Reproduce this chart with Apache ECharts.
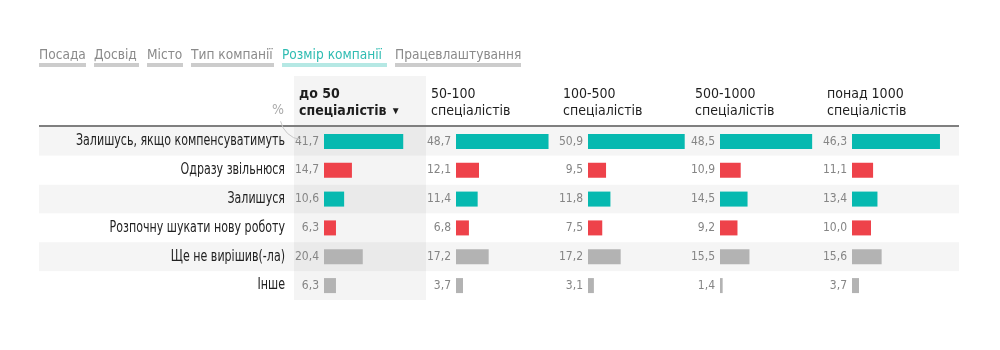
<!DOCTYPE html>
<html><head><meta charset="utf-8">
<script src="https://cdn.jsdelivr.net/npm/echarts@6/dist/echarts.min.js"></script>
<style>html,body{margin:0;padding:0;background:#fff}#c{width:1000px;height:350px}</style>
</head><body><div id="c"></div>
<script>
// ---- data ----
const tabs = ['Посада', 'Досвід', 'Місто', 'Тип компанії', 'Розмір компанії', 'Працевлаштування'];
const activeTab = 4;
const columnTitles = ['до 50\nспеціалістів {s|▼}', '50-100\nспеціалістів', '100-500\nспеціалістів', '500-1000\nспеціалістів', 'понад 1000\nспеціалістів'];
const answers = ['Залишусь, якщо компенсуватимуть', 'Одразу звільнюся', 'Залишуся', 'Розпочну шукати нову роботу', 'Ще не вирішив(-ла)', 'Інше'];
const answerKind = ['stay', 'leave', 'stay', 'leave', 'other', 'other'];
const upTo50 = [41.7, 14.7, 10.6, 6.3, 20.4, 6.3];
const from50to100 = [48.7, 12.1, 11.4, 6.8, 17.2, 3.7];
const from100to500 = [50.9, 9.5, 11.8, 7.5, 17.2, 3.1];
const from500to1000 = [48.5, 10.9, 14.5, 9.2, 15.5, 1.4];
const over1000 = [46.3, 11.1, 13.4, 10.0, 15.6, 3.7];
const columnsData = [upTo50, from50to100, from100to500, from500to1000, over1000];

// ---- styles / layout ----
const kindColor = { stay: '#06b9b0', leave: '#ee424a', other: '#b3b3b3' };
const FONT = "'Liberation Sans Narrow','DejaVu Sans Condensed','Roboto',sans-serif";
const tabX = [39, 94, 147, 191, 282, 395];
const tabW = [47, 45, 36, 83, 105, 126];
const tableLeft = 39, tableWidth = 920, rowsTop = 127, rowsHeight = 173;
const labelRight = 285;
const barStart = [324, 456, 588, 720, 852];
const pxPerUnit = 1.9, axisMax = 60;

const chart = echarts.init(document.getElementById('c'), null, { renderer: 'canvas' });

const grids = [{ left: tableLeft, top: rowsTop, width: tableWidth, height: rowsHeight }];
const xAxes = [{ gridIndex: 0, type: 'value', show: false, min: 0, max: 1 }];
const yAxes = [{
  gridIndex: 0, type: 'category', inverse: true, data: answers,
  axisLine: { show: false }, axisTick: { show: false }, splitLine: { show: false },
  splitArea: { show: true, areaStyle: { color: ['#f5f5f5', '#ffffff'] } },
  axisLabel: { show: false }
}];
const series = [];
columnsData.forEach((vals, i) => {
  const g = i + 1;
  grids.push({ left: barStart[i], top: rowsTop, width: axisMax * pxPerUnit, height: rowsHeight });
  xAxes.push({ gridIndex: g, type: 'value', show: false, min: 0, max: axisMax });
  yAxes.push({ gridIndex: g, type: 'category', inverse: true, data: answers, show: false });
  series.push({
    type: 'bar', xAxisIndex: g, yAxisIndex: g, barWidth: 15, clip: false,
    data: vals.map((v, k) => ({ value: v, itemStyle: { color: kindColor[answerKind[k]] } })),
    label: {
      show: true, position: 'left', distance: 5, color: '#858585', fontSize: 12, fontFamily: FONT,
      formatter: p => p.value.toFixed(1).replace('.', ',')
    },
    emphasis: { disabled: true }, silent: true, animation: false
  });
});

const graphic = [];
// tabs
tabs.forEach((t, i) => {
  const active = i === activeTab;
  graphic.push({ type: 'text', x: tabX[i], y: 48, z: 5,
    style: { text: t, fill: active ? '#2fbcb2' : '#8a8a8a', font: '13.6px ' + FONT } });
  graphic.push({ type: 'rect', shape: { x: tabX[i], y: 63, width: tabW[i], height: 4 }, z: 5,
    style: { fill: active ? '#b5e8e4' : '#cccccc' } });
});
// row labels (narrow text, right aligned)
const rowH = rowsHeight / answers.length;
answers.forEach((a, k) => {
  graphic.push({ type: 'text', x: labelRight, y: rowsTop + rowH * (k + 0.5), scaleX: 0.82, z: 5,
    style: { text: a, fill: '#222', font: '15px ' + FONT, align: 'right', verticalAlign: 'middle' } });
});
// highlighted column background
graphic.push({ type: 'rect', shape: { x: 294, y: 76, width: 132, height: 224 }, z: 1,
  style: { fill: 'rgba(0,0,0,0.045)' } });
// header rule
graphic.push({ type: 'rect', shape: { x: tableLeft, y: 125, width: tableWidth, height: 2 }, z: 3,
  style: { fill: '#7f7f7f' } });
// column titles
columnTitles.forEach((t, i) => {
  graphic.push({ type: 'text', x: barStart[i] - 25, y: 86, z: 5,
    style: { text: t, fill: '#1e1e1e', font: (i === 0 ? 'bold ' : '') + '14px ' + FONT, lineHeight: 17,
      rich: { s: { fontSize: 10, fill: '#1e1e1e', lineHeight: 17 } } } });
});
// percent sign and arc
graphic.push({ type: 'text', x: 272, y: 103, z: 5, style: { text: '%', fill: '#aaaaaa', font: '14px ' + FONT } });
graphic.push({ type: 'arc', z: 5, shape: { cx: 304, cy: 116, r: 24, startAngle: Math.PI * 0.55, endAngle: Math.PI * 0.93, clockwise: true },
  style: { stroke: '#c8c8c8', lineWidth: 1, fill: null } });

chart.setOption({
  animation: false,
  grid: grids, xAxis: xAxes, yAxis: yAxes, series: series, graphic: graphic
});
</script></body></html>
